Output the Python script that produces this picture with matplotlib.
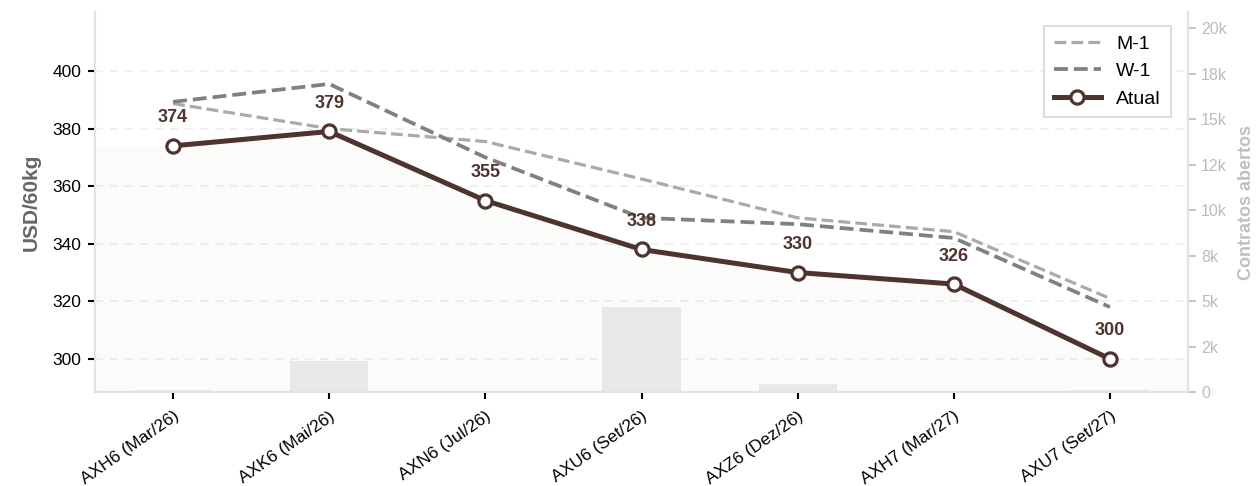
import matplotlib
matplotlib.use("Agg")
import matplotlib.pyplot as plt
from matplotlib.ticker import FuncFormatter, MultipleLocator
import numpy as np

plt.rcParams['font.family'] = ['Liberation Sans', 'DejaVu Sans']

categories = ["AXH6 (Mar/26)", "AXK6 (Mai/26)", "AXN6 (Jul/26)", "AXU6 (Set/26)",
              "AXZ6 (Dez/26)", "AXH7 (Mar/27)", "AXU7 (Set/27)"]
atual = [374, 379, 355, 338, 330, 326, 300]
m1 = [388.7, 380, 375.5, 362.5, 349, 344.2, 321]
w1 = [389.3, 395.5, 370, 349, 346.8, 342, 318]
open_interest = [100, 1700, 0, 4650, 420, 0, 100]

brown = "#4e342e"
x = np.arange(len(categories))

fig = plt.figure(figsize=(12.59, 4.86), dpi=100)
ax = fig.add_axes([95/1259, 1-392/486, (1188-95)/1259, (392-12)/486])
ax2 = ax.twinx()
ax.set_zorder(ax2.get_zorder() + 1)
ax.patch.set_visible(False)

# bars (open interest) on right axis
ax2.bar(x, open_interest, width=0.5, color="#ececec", zorder=1)
ax2.set_ylim(0, 20900)
ax2.yaxis.set_major_locator(MultipleLocator(2500))
ax2.yaxis.set_major_formatter(FuncFormatter(lambda v, p: "0" if v == 0 else f"{round(v/1000):d}k"))
ax2.tick_params(axis='y', colors="#bbbbbb", labelsize=11.5, length=6, width=1.2)
ax2.set_ylabel("Contratos abertos", color="#c0c0c0", fontsize=13, fontweight='bold', labelpad=8)

# fill under current curve
xf = np.concatenate([[-0.5], x, [len(x) - 0.5]])
yf = np.concatenate([[atual[0]], atual, [atual[-1]]])
ax.fill_between(xf, yf, 280, color=brown, alpha=0.02, linewidth=0, zorder=1)

ax.plot(x, m1, color="#aaaaaa", linestyle="--", lw=2.3, label="M-1", zorder=3)
ax.plot(x, w1, color="#808080", linestyle="--", lw=2.7, label="W-1", zorder=3)
ax.plot(x, atual, color=brown, lw=3.6, marker='o', markersize=9.5, markerfacecolor='white',
        markeredgecolor=brown, markeredgewidth=2.3, label="Atual", zorder=4)

for xi, v in zip(x, atual):
    ax.annotate(f"{v:d}", (xi, v), xytext=(0, 14), textcoords='offset points',
                ha='center', va='bottom', fontsize=13, fontweight='bold', color=brown, zorder=5)

ax.set_xlim(-0.5, len(x) - 0.5)
ax.set_ylim(288.5, 420.5)
ax.set_yticks([300, 320, 340, 360, 380, 400])
ax.set_xticks(x)
ax.set_xticklabels(categories, rotation=35, ha='right', rotation_mode='anchor', fontsize=12.5)
ax.tick_params(axis='y', labelsize=12.5, length=5, width=1.5, colors='black', pad=5)
ax.tick_params(axis='x', length=5, width=1.5, pad=7)
ax.set_ylabel("USD/60kg", color="#666666", fontsize=15, fontweight='bold', labelpad=8)

ax.yaxis.grid(True, linestyle=(0, (5, 4)), color="#eeeeee", lw=1.2)
ax.set_axisbelow(True)

for a in (ax, ax2):
    a.spines['top'].set_visible(False)
    for s in ('left', 'bottom', 'right'):
        a.spines[s].set_color("#e3e3e3")
        a.spines[s].set_linewidth(1.5)

leg = ax.legend(loc='upper right', fontsize=14, frameon=True, fancybox=False,
                edgecolor="#dddddd", framealpha=1, handlelength=2.4, borderpad=0.5,
                labelspacing=0.5, handletextpad=0.8, bbox_to_anchor=(0.993, 0.99))
leg.get_frame().set_linewidth(1.5)

fig.savefig("out.png", dpi=100)
